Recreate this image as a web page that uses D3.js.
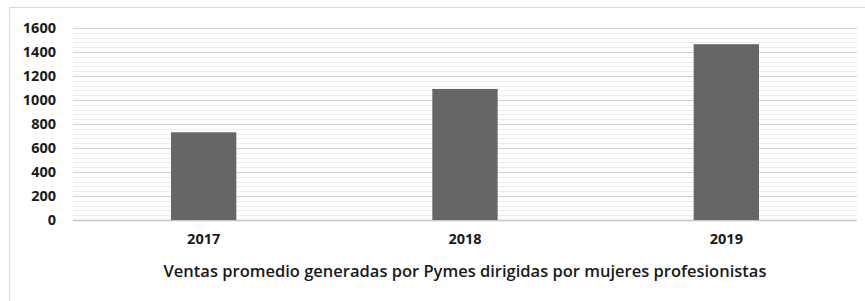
<!DOCTYPE html>
<html>
<head>
<meta charset="utf-8">
<script src="https://cdn.jsdelivr.net/npm/d3@7"></script>
<style>
  body { margin: 0; background: #fff; }
  svg { display: block; font-family: 'Open Sans', 'Noto Sans', sans-serif; }
</style>
</head>
<body>
<svg width="865" height="301"></svg>
<script>
const years = ['2017', '2018', '2019']
const ventas = [731, 1092, 1465]
const yTicks = [0, 200, 400, 600, 800, 1000, 1200, 1400, 1600]
const minorStep = 40
const xTitle = 'Ventas promedio generadas por Pymes dirigidas por mujeres profesionistas'

const svg = d3.select('svg'),
  width = 865,
  height = 301,
  margin = { top: 28, right: 8, bottom: 81, left: 73 }

// chart frame (cut off at right and bottom like the source)
svg.append('path')
  .attr('d', `M9.5,${height}V7.5H${width}`)
  .attr('fill', 'none')
  .attr('stroke', '#d9d9d9')

const x = d3.scaleBand()
  .domain(years)
  .range([margin.left, width - margin.right])
  .paddingInner(0.75)
  .paddingOuter(0.375)

const y = d3.scaleLinear()
  .domain([0, 1600])
  .range([height - margin.bottom, margin.top])

// minor gridlines
const minor = d3.range(0, 1600 + 1, minorStep).filter(v => v % 200 !== 0)
svg.append('g')
  .selectAll('line')
  .data(minor)
  .join('line')
  .attr('x1', margin.left)
  .attr('x2', width - margin.right)
  .attr('y1', d => Math.round(y(d)) + 0.5)
  .attr('y2', d => Math.round(y(d)) + 0.5)
  .attr('stroke', '#ececec')

// major gridlines
svg.append('g')
  .selectAll('line')
  .data(yTicks)
  .join('line')
  .attr('x1', margin.left)
  .attr('x2', width - margin.right)
  .attr('y1', d => Math.round(y(d)) + 0.5)
  .attr('y2', d => Math.round(y(d)) + 0.5)
  .attr('stroke', d => d === 0 ? '#c4c4c4' : '#d2d2d2')
  .attr('stroke-width', d => d === 0 ? 1.5 : 1.2)

// bars
svg.append('g')
  .selectAll('rect')
  .data(ventas)
  .join('rect')
  .attr('x', (d, i) => x(years[i]))
  .attr('y', d => y(d))
  .attr('width', x.bandwidth())
  .attr('height', d => y(0) - y(d))
  .attr('fill', '#666666')

// y axis labels
const yAxis = d3.axisLeft(y).tickValues(yTicks).tickFormat(d3.format('d')).tickSize(0).tickPadding(17)
svg.append('g')
  .attr('transform', `translate(${margin.left},0)`)
  .call(yAxis)
  .call(g => g.select('.domain').remove())
  .call(g => g.selectAll('text')
    .attr('font-size', '14.5px')
    .attr('font-weight', 'bold')
    .attr('fill', '#1a1a1a')
    .attr('font-family', "'Open Sans', sans-serif"))

// x axis labels
const xAxis = d3.axisBottom(x).tickSize(0).tickPadding(14)
svg.append('g')
  .attr('transform', `translate(0,${y(0)})`)
  .call(xAxis)
  .call(g => g.select('.domain').remove())
  .call(g => g.selectAll('text')
    .attr('font-size', '14.5px')
    .attr('font-weight', 'bold')
    .attr('fill', '#1a1a1a')
    .attr('font-family', "'Open Sans', sans-serif"))

svg.append('text')
  .attr('x', (margin.left + width - margin.right) / 2)
  .attr('y', 277)
  .attr('text-anchor', 'middle')
  .attr('font-size', '16.5px')
  .attr('font-weight', '600')
  .attr('fill', '#1a1a1a')
  .text(xTitle)
</script>
</body>
</html>
